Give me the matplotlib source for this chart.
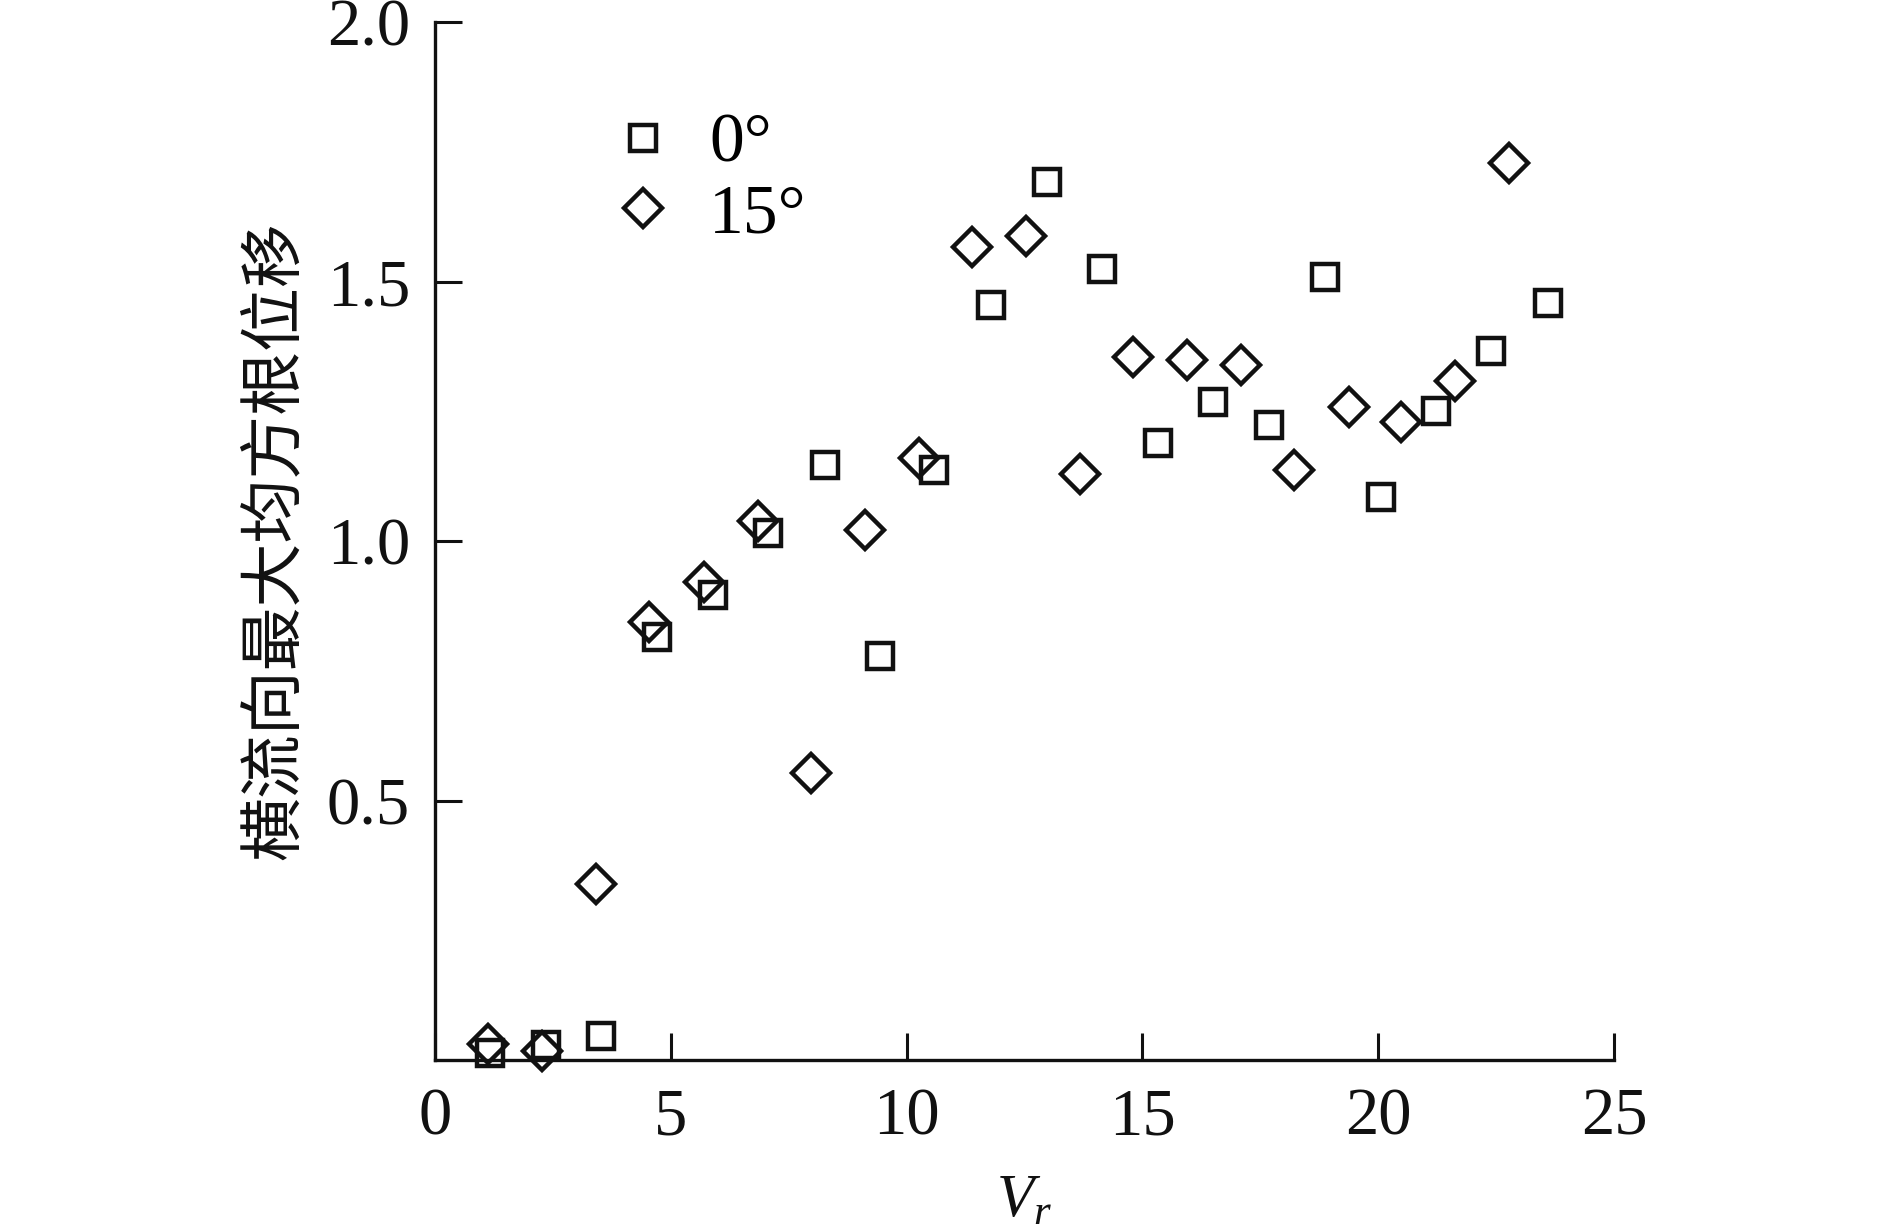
import matplotlib
matplotlib.use("Agg")
import matplotlib.pyplot as plt

plt.rcParams["font.family"] = ["Liberation Serif", "DejaVu Serif"]
plt.rcParams["mathtext.fontset"] = "custom"
plt.rcParams["mathtext.rm"] = "Liberation Serif"
plt.rcParams["mathtext.it"] = "Liberation Serif:italic"

# 0 degree series (squares)
vr_0 = [1.17, 2.35, 3.52, 4.71, 5.89, 7.07, 8.27, 9.44, 10.59, 11.80, 12.98,
        14.15, 15.33, 16.50, 17.68, 18.88, 20.05, 21.22, 22.40, 23.60]
rms_0 = [0.013, 0.029, 0.046, 0.815, 0.896, 1.016, 1.146, 0.778, 1.137, 1.455,
         1.692, 1.524, 1.188, 1.267, 1.223, 1.508, 1.084, 1.251, 1.367, 1.459]

# 15 degree series (diamonds)
vr_15 = [1.12, 2.27, 3.41, 4.54, 5.71, 6.84, 7.97, 9.11, 10.26, 11.39, 12.53,
         13.67, 14.80, 15.94, 17.09, 18.21, 19.39, 20.48, 21.63, 22.78]
rms_15 = [0.031, 0.017, 0.339, 0.844, 0.921, 1.039, 0.553, 1.021, 1.160, 1.566,
          1.588, 1.130, 1.355, 1.348, 1.339, 1.137, 1.258, 1.230, 1.309, 1.729]

labels = ["0°", "15°"]
xticks = [0, 5, 10, 15, 20, 25]
yticks = [0.5, 1.0, 1.5, 2.0]

fig = plt.figure(figsize=(18.89, 12.29), dpi=100)
ax = fig.add_axes([0.2303, 0.1375, 0.6241, 0.8446])

mk = dict(linestyle="none", markerfacecolor="none", markeredgecolor="#111111",
          markeredgewidth=3.2, clip_on=False, zorder=3)
ax.plot(vr_0, rms_0, marker="s", markersize=19, label=labels[0], **mk)
ax.plot(vr_15, rms_15, marker="D", markersize=19, label=labels[1], **mk)

ax.set_xlim(0, 25)
ax.set_ylim(0, 2.0)
ax.set_xticks(xticks)
ax.set_yticks(yticks)
ax.set_yticklabels([f"{v:.1f}" for v in yticks])

for side in ("top", "right"):
    ax.spines[side].set_visible(False)
for side in ("left", "bottom"):
    ax.spines[side].set_linewidth(2.4)
    ax.spines[side].set_color("#111111")

ax.tick_params(axis="both", direction="in", length=19.5, width=2.2,
               color="#111111", labelsize=48, labelcolor="#111111")
ax.tick_params(axis="x", pad=20)
ax.tick_params(axis="y", pad=18)

ax.set_xlabel("$V_r$", fontsize=44, color="#111111")
ax.xaxis.set_label_coords(0.5, -0.11)
ax.set_ylabel("横流向最大均方根位移", fontsize=46, color="#111111",
              family=["Noto Sans CJK SC", "DejaVu Sans"])
ax.yaxis.set_label_coords(-0.108, 0.5)

ax.legend(loc="upper left", bbox_to_anchor=(0.147, 0.912), frameon=False,
          fontsize=50, handlelength=1.0, handletextpad=0.45,
          labelspacing=0.1, borderpad=0, borderaxespad=0, numpoints=1)

fig.savefig("out.png", dpi=100, facecolor="white")
